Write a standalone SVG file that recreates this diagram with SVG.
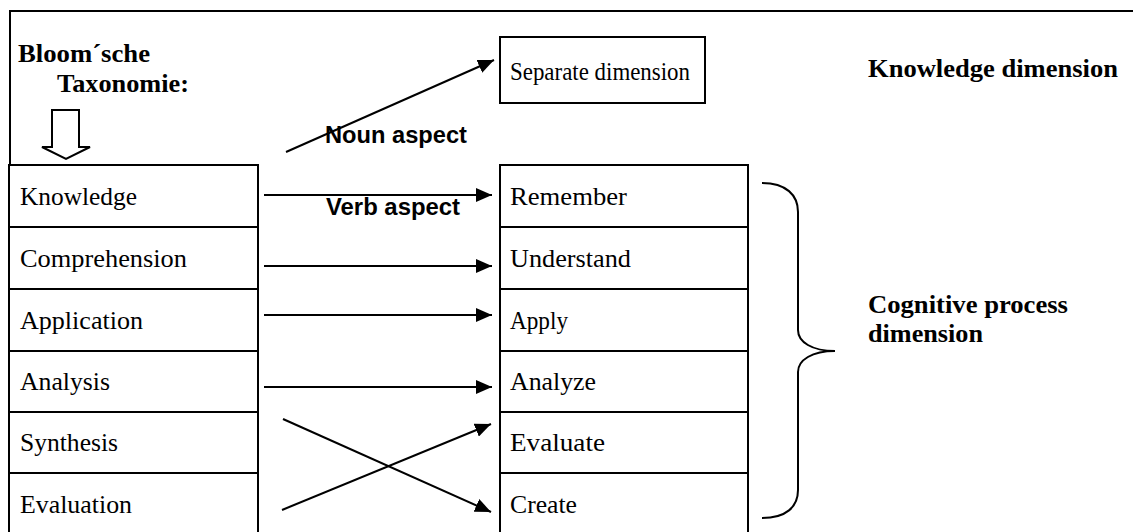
<svg xmlns="http://www.w3.org/2000/svg" width="1133" height="532" viewBox="0 0 1133 532">
<style>
.box{fill:#fff;stroke:#000;stroke-width:2}
.t{font-family:"Liberation Serif",serif;font-size:25px;fill:#000}
.tb{font-family:"Liberation Serif",serif;font-size:25px;font-weight:bold;fill:#000}
.lb{font-family:"Liberation Sans",sans-serif;font-size:23px;font-weight:bold;fill:#000}
.c{stroke:#000;stroke-width:2;fill:none}
</style>
<defs>
<marker id="ah2" viewBox="0 0 16 14" refX="16" refY="7" markerWidth="16" markerHeight="14" markerUnits="userSpaceOnUse" orient="auto">
<path d="M0,0 L16,7 L0,14 z" fill="#000"/>
</marker>
</defs>
<rect width="1133" height="532" fill="#fff"/>
<g id="frame"><path class="c" d="M10,540 V11 H1140"/></g>
<g id="title">
<text class="tb" x="18" y="62" textLength="132" lengthAdjust="spacingAndGlyphs">Bloom´sche</text>
<text class="tb" x="57" y="92" textLength="132" lengthAdjust="spacingAndGlyphs">Taxonomie:</text>
<path d="M52,110 H79 V147 H90 L66,159 L42,147 H52 Z" fill="#fff" stroke="#000" stroke-width="2"/>
</g>
<g id="left">
<g id="n-knowledge"><rect class="box" x="9" y="165" width="249" height="62"/><text class="t" x="20" y="205" textLength="117" lengthAdjust="spacingAndGlyphs">Knowledge</text></g>
<g id="n-comprehension"><rect class="box" x="9" y="227" width="249" height="62"/><text class="t" x="20" y="267" textLength="167" lengthAdjust="spacingAndGlyphs">Comprehension</text></g>
<g id="n-application"><rect class="box" x="9" y="289" width="249" height="62"/><text class="t" x="20" y="329" textLength="123" lengthAdjust="spacingAndGlyphs">Application</text></g>
<g id="n-analysis"><rect class="box" x="9" y="351" width="249" height="61"/><text class="t" x="20" y="390" textLength="90" lengthAdjust="spacingAndGlyphs">Analysis</text></g>
<g id="n-synthesis"><rect class="box" x="9" y="412" width="249" height="61"/><text class="t" x="20" y="451" textLength="98" lengthAdjust="spacingAndGlyphs">Synthesis</text></g>
<g id="n-evaluation"><rect class="box" x="9" y="473" width="249" height="70"/><text class="t" x="20" y="513" textLength="112" lengthAdjust="spacingAndGlyphs">Evaluation</text></g>
</g>
<g id="right">
<g id="n-separate"><rect class="box" x="500" y="37" width="205" height="66"/><text class="t" x="510" y="80" textLength="180" lengthAdjust="spacingAndGlyphs">Separate dimension</text></g>
<g id="n-remember"><rect class="box" x="500" y="165" width="248" height="62"/><text class="t" x="510" y="205" textLength="117" lengthAdjust="spacingAndGlyphs">Remember</text></g>
<g id="n-understand"><rect class="box" x="500" y="227" width="248" height="62"/><text class="t" x="510" y="267" textLength="121" lengthAdjust="spacingAndGlyphs">Understand</text></g>
<g id="n-apply"><rect class="box" x="500" y="289" width="248" height="62"/><text class="t" x="510" y="329" textLength="58" lengthAdjust="spacingAndGlyphs">Apply</text></g>
<g id="n-analyze"><rect class="box" x="500" y="351" width="248" height="61"/><text class="t" x="510" y="390" textLength="86" lengthAdjust="spacingAndGlyphs">Analyze</text></g>
<g id="n-evaluate"><rect class="box" x="500" y="412" width="248" height="61"/><text class="t" x="510" y="451" textLength="95" lengthAdjust="spacingAndGlyphs">Evaluate</text></g>
<g id="n-create"><rect class="box" x="500" y="473" width="248" height="70"/><text class="t" x="510" y="513" textLength="67" lengthAdjust="spacingAndGlyphs">Create</text></g>
</g>
<g id="connectors">
<line class="c" x1="286" y1="152" x2="494" y2="60" marker-end="url(#ah2)"/>
<line class="c" x1="264" y1="195" x2="492" y2="195" marker-end="url(#ah2)"/>
<line class="c" x1="264" y1="266" x2="492" y2="266" marker-end="url(#ah2)"/>
<line class="c" x1="264" y1="315" x2="492" y2="315" marker-end="url(#ah2)"/>
<line class="c" x1="264" y1="387" x2="492" y2="387" marker-end="url(#ah2)"/>
<line class="c" x1="283" y1="419" x2="491" y2="512" marker-end="url(#ah2)"/>
<line class="c" x1="282" y1="510" x2="491" y2="424" marker-end="url(#ah2)"/>
<path class="c" d="M762,183 C786,183 798,195 798,212 V330 C798,342 812,351 835,351 C812,351 798,360 798,372 V490 C798,507 786,518 762,518"/>
</g>
<g id="labels">
<text class="lb" x="325" y="143" textLength="142" lengthAdjust="spacingAndGlyphs">Noun aspect</text>
<text class="lb" x="326" y="215" textLength="134" lengthAdjust="spacingAndGlyphs">Verb aspect</text>
<text class="tb" x="868" y="77" textLength="250" lengthAdjust="spacingAndGlyphs">Knowledge dimension</text>
<text class="tb" x="868" y="313" textLength="200" lengthAdjust="spacingAndGlyphs">Cognitive process</text>
<text class="tb" x="868" y="342" textLength="115" lengthAdjust="spacingAndGlyphs">dimension</text>
</g>
</svg>
